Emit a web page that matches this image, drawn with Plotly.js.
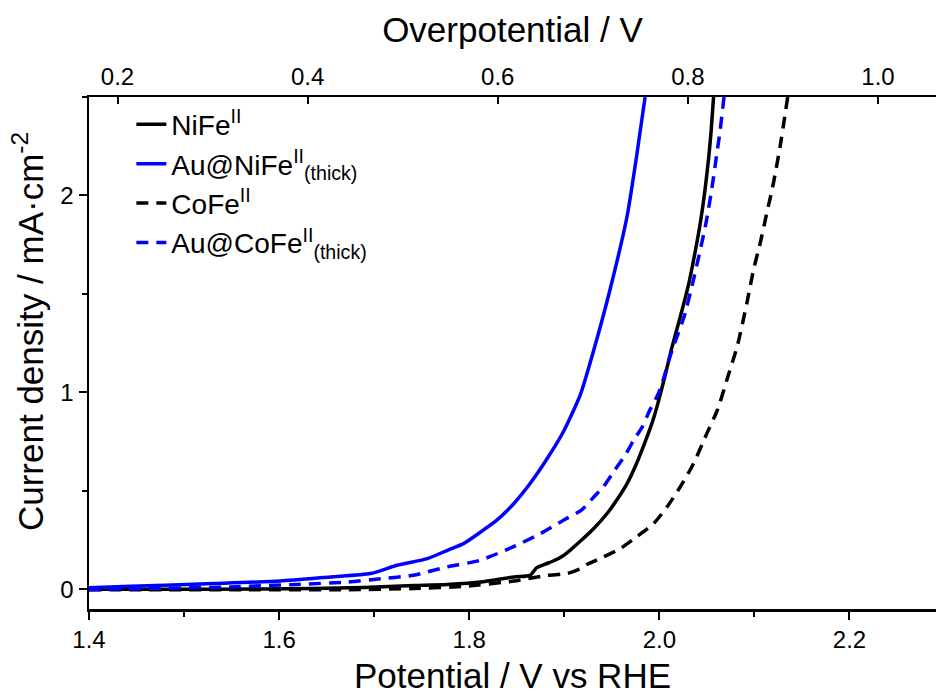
<!DOCTYPE html>
<html>
<head>
<meta charset="utf-8">
<script src="https://cdn.plot.ly/plotly-3.0.1.min.js"></script>
<style>html,body{margin:0;padding:0;background:#fff;}#chart{width:936px;height:695px;}</style>
</head>
<body>
<div id="chart"></div>
<script>
// Potential (V vs RHE) and current density (mA cm^-2)
const nife_E = [1.400, 1.531, 1.636, 1.689, 1.742, 1.777, 1.812, 1.847, 1.864, 1.871, 1.880, 1.889, 1.898, 1.906, 1.917, 1.931, 1.945, 1.955, 1.966, 1.976, 1.987, 1.994, 2.001, 2.007, 2.013, 2.022, 2.031, 2.038, 2.043, 2.048, 2.052, 2.0545, 2.057];
const nife_J = [0.000, 0.000, 0.004, 0.009, 0.019, 0.025, 0.037, 0.063, 0.071, 0.110, 0.128, 0.145, 0.168, 0.198, 0.245, 0.309, 0.385, 0.452, 0.537, 0.639, 0.774, 0.870, 0.990, 1.105, 1.225, 1.384, 1.554, 1.723, 1.859, 2.028, 2.198, 2.330, 2.500];

const aunife_E = [1.400, 1.444, 1.531, 1.601, 1.654, 1.696, 1.724, 1.756, 1.777, 1.794, 1.812, 1.829, 1.847, 1.864, 1.882, 1.899, 1.917, 1.931, 1.948, 1.966, 1.976, 1.985];
const aunife_J = [0.008, 0.015, 0.029, 0.042, 0.063, 0.080, 0.122, 0.156, 0.198, 0.232, 0.291, 0.351, 0.436, 0.537, 0.664, 0.800, 0.990, 1.215, 1.520, 1.893, 2.198, 2.500];

const cofe_E = [1.400, 1.566, 1.672, 1.742, 1.794, 1.847, 1.882, 1.903, 1.917, 1.924, 1.941, 1.959, 1.976, 1.994, 2.008, 2.022, 2.036, 2.050, 2.061, 2.071, 2.082, 2.092, 2.099, 2.106, 2.113, 2.120, 2.127, 2.135];
const cofe_J = [-0.002, -0.002, -0.002, 0.004, 0.015, 0.042, 0.071, 0.080, 0.105, 0.127, 0.164, 0.207, 0.266, 0.334, 0.418, 0.520, 0.639, 0.792, 0.910, 1.063, 1.236, 1.452, 1.622, 1.757, 1.910, 2.063, 2.249, 2.500];

const aucofe_E = [1.400, 1.461, 1.549, 1.619, 1.672, 1.707, 1.741, 1.776, 1.811, 1.846, 1.875, 1.899, 1.918, 1.931, 1.941, 1.953, 1.964, 1.973, 1.982, 1.990, 1.999, 2.004, 2.010, 2.016, 2.026, 2.035, 2.043, 2.049, 2.055, 2.060, 2.064, 2.068];
const aucofe_J = [-0.002, 0.004, 0.012, 0.025, 0.037, 0.054, 0.071, 0.113, 0.147, 0.215, 0.283, 0.351, 0.402, 0.469, 0.520, 0.605, 0.681, 0.757, 0.825, 0.910, 0.995, 1.063, 1.164, 1.250, 1.384, 1.554, 1.723, 1.859, 2.028, 2.198, 2.333, 2.500];

const names = ['NiFe<sup>II</sup>', 'Au@NiFe<sup>II</sup><sub>(thick)</sub>', 'CoFe<sup>II</sup>', 'Au@CoFe<sup>II</sup><sub>(thick)</sub>'];
const xTicks = [1.4, 1.6, 1.8, 2.0, 2.2];
const topTicks = [0.2, 0.4, 0.6, 0.8, 1.0];
const yTicks = [0, 1, 2];
const OFFSET = 1.23; // overpotential = E - 1.23 V

const FONT = 'Liberation Sans, Arial, sans-serif';
const LW = 3.5;
const SH = {shape: 'spline', smoothing: 0.6};

const traces = [
  {x: nife_E, y: nife_J, name: names[0], mode: 'lines', line: Object.assign({color: '#000000', width: LW}, SH)},
  {x: aunife_E, y: aunife_J, name: names[1], mode: 'lines', line: Object.assign({color: '#0000ff', width: LW}, SH)},
  {x: cofe_E, y: cofe_J, name: names[2], mode: 'lines', line: Object.assign({color: '#000000', width: LW, dash: '12px,8px'}, SH)},
  {x: aucofe_E, y: aucofe_J, name: names[3], mode: 'lines', line: Object.assign({color: '#0000ff', width: LW, dash: '12px,8px'}, SH)},
  // carrier for the top (overpotential) axis, draws nothing
  {x: topTicks, y: topTicks.map(() => null), xaxis: 'x2', yaxis: 'y', mode: 'lines', showlegend: false, hoverinfo: 'skip'}
];

const xr = [1.4, 2.291];
const layout = {
  width: 936, height: 695,
  margin: {l: 89, r: 0, t: 97, b: 86, pad: 0},
  paper_bgcolor: '#ffffff', plot_bgcolor: '#ffffff',
  font: {family: FONT, color: '#000000', size: 24},
  showlegend: true,
  legend: {x: 0.05, y: 0.995, xanchor: 'left', yanchor: 'top', bgcolor: 'rgba(0,0,0,0)',
           font: {family: FONT, size: 28, color: '#000'}, tracegroupgap: 0},
  xaxis: {
    range: xr, tickvals: xTicks, ticktext: xTicks.map(v => v.toFixed(1)),
    ticks: 'outside', ticklen: 8, tickwidth: 2, tickcolor: '#000',
    minor: {ticks: 'outside', ticklen: 5, tickwidth: 2, tickcolor: '#000', dtick: 0.1, tick0: 1.4, showgrid: false},
    showline: true, linewidth: 2.5, linecolor: '#000', showgrid: false, zeroline: false,
    tickfont: {family: FONT, size: 24},
    title: {text: 'Potential / V vs RHE', font: {family: FONT, size: 35}, standoff: 20}
  },
  xaxis2: {
    overlaying: 'x', side: 'top', anchor: 'y',
    range: [xr[0] - OFFSET, xr[1] - OFFSET], tickvals: topTicks, ticktext: topTicks.map(v => v.toFixed(1)),
    ticks: 'inside', ticklen: 7, tickwidth: 2, tickcolor: '#000',
    showline: true, linewidth: 2.5, linecolor: '#000', showgrid: false, zeroline: false,
    tickfont: {family: FONT, size: 24},
    title: {text: 'Overpotential / V', font: {family: FONT, size: 35}, standoff: 10}
  },
  yaxis: {
    range: [-0.1, 2.5], tickvals: yTicks, ticktext: yTicks.map(String),
    ticks: 'outside', ticklen: 8, tickwidth: 2, tickcolor: '#000',
    minor: {ticks: 'outside', ticklen: 5, tickwidth: 2, tickcolor: '#000', dtick: 0.5, tick0: 0, showgrid: false},
    showline: true, linewidth: 2.5, linecolor: '#000', showgrid: false, zeroline: false,
    tickfont: {family: FONT, size: 24}
  },
  annotations: [{
    text: 'Current density / mA·cm<sup>-2</sup>', textangle: -90,
    xref: 'paper', yref: 'paper', x: -0.072, y: 0.541, xanchor: 'center', yanchor: 'middle',
    showarrow: false, font: {family: FONT, size: 35, color: '#000'}
  }]
};

Plotly.newPlot('chart', traces, layout, {staticPlot: true, displayModeBar: false});
</script>
</body>
</html>
